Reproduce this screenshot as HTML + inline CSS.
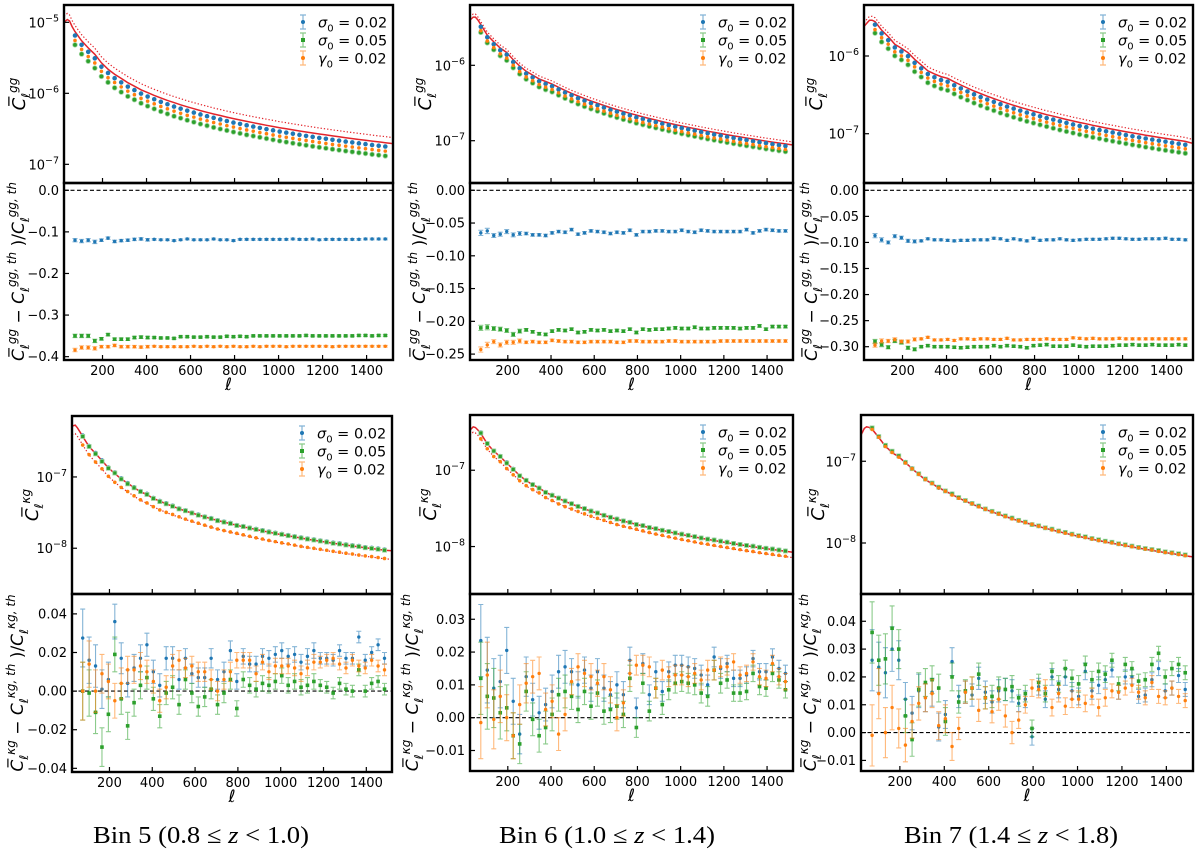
<!DOCTYPE html>
<html><head><meta charset="utf-8"><title>Angular power spectra residuals, bins 5–7</title>
<style>
body{margin:0;background:#fff;}
svg{display:block;font-family:"DejaVu Sans","Liberation Sans",sans-serif;}
</style></head>
<body>
<svg id="fig" width="1200" height="853" viewBox="0 0 1200 853" xmlns="http://www.w3.org/2000/svg">
<rect width="1200" height="853" fill="#fff"/>
<g id="root"></g>
<text x="201" y="843" text-anchor="middle" font-family="Liberation Serif, serif" font-size="24" textLength="216" lengthAdjust="spacingAndGlyphs">Bin 5 (0.8 ≤ <tspan font-style="italic">z</tspan> &lt; 1.0)</text>
<text x="607" y="843" text-anchor="middle" font-family="Liberation Serif, serif" font-size="24" textLength="216" lengthAdjust="spacingAndGlyphs">Bin 6 (1.0 ≤ <tspan font-style="italic">z</tspan> &lt; 1.4)</text>
<text x="1011" y="843" text-anchor="middle" font-family="Liberation Serif, serif" font-size="24" textLength="214" lengthAdjust="spacingAndGlyphs">Bin 7 (1.4 ≤ <tspan font-style="italic">z</tspan> &lt; 1.8)</text>
</svg>
<script>
// ---------- data ----------
const ell = [75,105,135,165,195,225,255,285,315,345,375,405,435,465,495,525,555,585,615,645,675,705,735,765,795,825,855,885,915,945,975,1005,1035,1065,1095,1125,1155,1185,1215,1245,1275,1305,1335,1365,1395,1425,1455,1485];
const ellLowKnots = [25,40,50,62];
const ellHighKnots = [1520];
const xTicks = [200,400,600,800,1000,1200,1400];

// theory log10(C_ell) on grid [ellLowKnots, ell, ellHighKnots]
const thA = [-5.0,-4.96,-4.98,-5.06,-5.13,-5.26,-5.36,-5.45,-5.57,-5.66,-5.73,-5.79,-5.85,-5.90,-5.95,-5.99,-6.029,-6.065,-6.099,-6.131,-6.161,-6.19,-6.216,-6.243,-6.267,-6.291,-6.313,-6.335,-6.356,-6.376,-6.396,-6.414,-6.432,-6.45,-6.467,-6.484,-6.499,-6.515,-6.53,-6.545,-6.559,-6.573,-6.586,-6.6,-6.612,-6.625,-6.637,-6.65,-6.661,-6.673,-6.684,-6.695,-6.708];
const thB = [-5.40,-5.36,-5.36,-5.40,-5.46,-5.60,-5.69,-5.77,-5.83,-5.925,-6.01,-6.08,-6.13,-6.18,-6.215,-6.248,-6.292,-6.333,-6.371,-6.407,-6.441,-6.474,-6.503,-6.533,-6.561,-6.588,-6.613,-6.637,-6.661,-6.684,-6.706,-6.726,-6.747,-6.767,-6.787,-6.805,-6.822,-6.84,-6.857,-6.874,-6.89,-6.905,-6.921,-6.936,-6.95,-6.964,-6.978,-6.992,-7.005,-7.018,-7.031,-7.043,-7.057];
const thC = [-5.62,-5.57,-5.54,-5.54,-5.557,-5.667,-5.75,-5.85,-5.90,-5.957,-6.043,-6.115,-6.19,-6.23,-6.265,-6.287,-6.332,-6.373,-6.412,-6.45,-6.484,-6.517,-6.548,-6.578,-6.607,-6.634,-6.66,-6.684,-6.709,-6.732,-6.755,-6.775,-6.797,-6.817,-6.837,-6.856,-6.873,-6.892,-6.909,-6.926,-6.942,-6.958,-6.974,-6.99,-7.004,-7.019,-7.033,-7.047,-7.06,-7.073,-7.086,-7.099,-7.124];
const thD = [-6.286,-6.272,-6.31,-6.366,-6.432,-6.573,-6.671,-6.77,-6.873,-6.953,-7.028,-7.089,-7.15,-7.207,-7.249,-7.30,-7.34,-7.377,-7.412,-7.446,-7.477,-7.506,-7.533,-7.561,-7.586,-7.611,-7.634,-7.656,-7.678,-7.699,-7.719,-7.737,-7.757,-7.775,-7.793,-7.81,-7.825,-7.842,-7.857,-7.873,-7.887,-7.901,-7.915,-7.93,-7.942,-7.955,-7.968,-7.981,-7.993,-8.004,-8.016,-8.028,-8.035];
const thE = [-6.474,-6.43,-6.44,-6.474,-6.518,-6.654,-6.75,-6.82,-6.908,-6.987,-7.07,-7.136,-7.189,-7.232,-7.289,-7.329,-7.369,-7.407,-7.442,-7.476,-7.507,-7.537,-7.564,-7.592,-7.618,-7.642,-7.666,-7.688,-7.71,-7.731,-7.752,-7.77,-7.789,-7.807,-7.826,-7.843,-7.858,-7.875,-7.891,-7.906,-7.921,-7.935,-7.949,-7.963,-7.976,-7.989,-8.002,-8.015,-8.027,-8.039,-8.051,-8.062,-8.075];
const thF = [-6.68,-6.598,-6.578,-6.586,-6.607,-6.709,-6.816,-6.893,-6.947,-7.016,-7.09,-7.16,-7.225,-7.275,-7.324,-7.365,-7.408,-7.449,-7.487,-7.523,-7.557,-7.589,-7.618,-7.648,-7.676,-7.702,-7.728,-7.751,-7.775,-7.798,-7.82,-7.84,-7.861,-7.88,-7.9,-7.918,-7.935,-7.953,-7.97,-7.987,-8.002,-8.017,-8.033,-8.048,-8.062,-8.076,-8.09,-8.104,-8.117,-8.129,-8.142,-8.155,-8.17];
// log10 offset of the alternative (dotted) theory used for the gamma_0 series
const dotOffset = [0.085,0.04,0.05,-0.12,-0.07,-0.003];

// residuals
const resA_sig02 = [-0.120,-0.122,-0.120,-0.124,-0.120,-0.115,-0.123,-0.121,-0.120,-0.118,-0.117,-0.119,-0.118,-0.119,-0.119,-0.121,-0.119,-0.117,-0.119,-0.119,-0.119,-0.117,-0.119,-0.119,-0.121,-0.118,-0.118,-0.118,-0.118,-0.118,-0.118,-0.118,-0.118,-0.117,-0.118,-0.118,-0.117,-0.119,-0.118,-0.118,-0.118,-0.118,-0.118,-0.118,-0.117,-0.117,-0.117,-0.117];
const resA_sig05 = [-0.350,-0.350,-0.350,-0.362,-0.357,-0.347,-0.358,-0.358,-0.358,-0.354,-0.353,-0.354,-0.354,-0.355,-0.355,-0.356,-0.352,-0.352,-0.353,-0.353,-0.352,-0.353,-0.353,-0.351,-0.352,-0.351,-0.352,-0.350,-0.350,-0.350,-0.350,-0.350,-0.350,-0.350,-0.350,-0.349,-0.350,-0.350,-0.350,-0.350,-0.350,-0.350,-0.350,-0.349,-0.349,-0.350,-0.349,-0.349];
const resA_gam02 = [-0.384,-0.378,-0.378,-0.380,-0.376,-0.376,-0.373,-0.376,-0.376,-0.376,-0.377,-0.376,-0.375,-0.376,-0.376,-0.376,-0.376,-0.376,-0.375,-0.376,-0.375,-0.376,-0.375,-0.376,-0.375,-0.376,-0.376,-0.375,-0.376,-0.375,-0.375,-0.375,-0.376,-0.375,-0.375,-0.375,-0.375,-0.375,-0.375,-0.376,-0.375,-0.375,-0.375,-0.375,-0.375,-0.375,-0.375,-0.375];
const resB_sig02 = [-0.065,-0.062,-0.069,-0.067,-0.063,-0.068,-0.066,-0.066,-0.068,-0.068,-0.069,-0.065,-0.063,-0.064,-0.060,-0.067,-0.065,-0.062,-0.063,-0.064,-0.066,-0.064,-0.065,-0.061,-0.068,-0.063,-0.063,-0.062,-0.062,-0.063,-0.063,-0.061,-0.063,-0.064,-0.061,-0.062,-0.063,-0.063,-0.063,-0.063,-0.063,-0.060,-0.065,-0.062,-0.060,-0.061,-0.062,-0.062];
const resB_sig05 = [-0.210,-0.209,-0.211,-0.212,-0.214,-0.220,-0.215,-0.213,-0.216,-0.219,-0.220,-0.215,-0.213,-0.214,-0.212,-0.217,-0.216,-0.213,-0.214,-0.213,-0.215,-0.214,-0.215,-0.212,-0.217,-0.212,-0.213,-0.212,-0.212,-0.211,-0.210,-0.211,-0.211,-0.209,-0.211,-0.211,-0.210,-0.210,-0.210,-0.210,-0.211,-0.210,-0.210,-0.207,-0.212,-0.208,-0.208,-0.208];
const resB_gam02 = [-0.243,-0.236,-0.231,-0.236,-0.232,-0.232,-0.230,-0.232,-0.231,-0.232,-0.232,-0.229,-0.230,-0.231,-0.231,-0.232,-0.232,-0.231,-0.231,-0.231,-0.231,-0.232,-0.232,-0.230,-0.230,-0.231,-0.231,-0.231,-0.231,-0.230,-0.230,-0.231,-0.231,-0.231,-0.231,-0.231,-0.231,-0.230,-0.230,-0.230,-0.230,-0.230,-0.230,-0.230,-0.230,-0.230,-0.230,-0.230];
const resC_sig02 = [-0.087,-0.095,-0.100,-0.088,-0.091,-0.097,-0.098,-0.097,-0.093,-0.095,-0.095,-0.096,-0.097,-0.096,-0.096,-0.095,-0.095,-0.095,-0.092,-0.093,-0.096,-0.093,-0.095,-0.097,-0.092,-0.096,-0.095,-0.095,-0.093,-0.095,-0.096,-0.095,-0.094,-0.094,-0.094,-0.093,-0.092,-0.092,-0.093,-0.094,-0.094,-0.093,-0.093,-0.093,-0.092,-0.094,-0.094,-0.095];
const resC_sig05 = [-0.290,-0.296,-0.301,-0.289,-0.292,-0.302,-0.305,-0.300,-0.298,-0.300,-0.300,-0.300,-0.301,-0.302,-0.301,-0.300,-0.300,-0.300,-0.298,-0.300,-0.298,-0.299,-0.300,-0.302,-0.298,-0.297,-0.296,-0.299,-0.299,-0.299,-0.297,-0.299,-0.300,-0.299,-0.299,-0.299,-0.298,-0.297,-0.297,-0.296,-0.297,-0.297,-0.296,-0.297,-0.297,-0.297,-0.296,-0.297];
const resC_gam02 = [-0.297,-0.289,-0.289,-0.286,-0.290,-0.290,-0.286,-0.285,-0.282,-0.287,-0.287,-0.286,-0.288,-0.285,-0.285,-0.286,-0.285,-0.285,-0.286,-0.286,-0.284,-0.287,-0.287,-0.286,-0.286,-0.286,-0.285,-0.286,-0.286,-0.286,-0.283,-0.284,-0.285,-0.284,-0.285,-0.285,-0.285,-0.284,-0.285,-0.285,-0.285,-0.285,-0.285,-0.285,-0.285,-0.285,-0.285,-0.285];
const resD_sig02 = [0.0275,0.016,0.013,0.001,0.006,0.036,0.017,0.004,0.012,0.017,0.024,0.010,0.003,0.017,0.017,0.006,0.017,0.009,0.007,0.007,0.017,0.006,0.010,0.021,0.005,0.018,0.014,0.014,0.018,0.017,0.019,0.021,0.018,0.019,0.015,0.018,0.021,0.017,0.017,0.016,0.021,0.017,0.017,0.028,0.016,0.020,0.024,0.017];
const resD_sig05 = [0.000,-0.001,-0.011,-0.029,-0.012,0.019,-0.004,-0.018,-0.006,0.003,0.007,-0.004,-0.013,-0.001,0.002,-0.007,0.006,-0.001,-0.008,-0.003,0.001,-0.007,-0.001,0.006,-0.009,0.006,0.003,0.001,0.004,0.003,0.005,0.008,0.003,0.005,0.002,0.003,0.005,0.003,0.002,-0.001,0.004,0.001,0.000,0.011,0.000,0.004,0.005,0.001];
const resD_gam02 = [0.000,0.014,0.000,0.009,0.005,-0.005,0.004,0.011,0.011,0.013,0.010,0.005,-0.005,0.002,0.013,0.016,0.012,0.013,0.010,0.010,0.006,0.000,0.006,0.010,0.016,0.016,0.016,0.009,0.015,0.010,0.013,0.013,0.013,0.012,0.009,0.012,0.015,0.015,0.016,0.017,0.014,0.012,0.016,0.013,0.012,0.016,0.013,0.011];
const resE_sig02 = [0.0235,0.0145,0.009,0.011,0.0205,0.005,-0.005,0.0125,0.0055,0.0015,0.004,0.008,0.014,0.0155,0.014,0.010,0.0145,0.009,0.014,0.009,0.007,0.010,0.007,0.0175,0.003,0.0165,0.007,0.014,0.008,0.014,0.016,0.016,0.0155,0.015,0.013,0.010,0.0185,0.015,0.0165,0.012,0.012,0.013,0.018,0.014,0.014,0.0185,0.015,0.0135];
const resE_sig05 = [0.012,0.0065,0.006,0.0015,0.003,-0.0055,-0.008,0.008,-0.0005,-0.0055,-0.003,0.001,0.007,0.008,0.0065,0.0025,0.008,0.0035,0.0075,0.002,0.0025,0.0035,0.001,0.012,-0.003,0.0105,0.002,0.009,0.004,0.0085,0.0105,0.011,0.0105,0.010,0.0075,0.0065,0.0145,0.0105,0.0115,0.0075,0.0075,0.008,0.0135,0.0095,0.009,0.0135,0.0115,0.0085];
const resE_gam02 = [-0.0015,0.013,-0.0005,0.0065,0.0,-0.0055,0.004,0.0105,0.0125,0.0135,0.0025,0.005,-0.005,0.001,0.011,0.0155,0.0135,0.0125,0.0105,0.0125,0.0085,0.0,0.0045,0.0135,0.016,0.016,0.0155,0.009,0.0145,0.0125,0.013,0.013,0.0125,0.0135,0.0115,0.0145,0.0145,0.0155,0.0155,0.017,0.013,0.0135,0.017,0.0125,0.012,0.0165,0.0125,0.011];
const resF_sig02 = [0.026,0.0235,0.0215,0.030,0.026,0.012,0.007,0.015,0.0125,0.0145,0.002,0.0065,0.0255,0.013,0.0145,0.0135,0.0195,0.0145,0.011,0.015,0.0155,0.015,0.0105,0.012,-0.0015,0.0165,0.012,0.020,0.0155,0.020,0.015,0.013,0.022,0.015,0.017,0.019,0.0225,0.0145,0.020,0.020,0.013,0.0135,0.019,0.023,0.015,0.016,0.0205,0.0155];
const resF_sig05 = [0.036,0.026,0.0265,0.0375,0.030,0.006,-0.0025,0.0155,0.018,0.019,0.016,0.004,0.020,0.011,0.015,0.016,0.021,0.0125,0.013,0.016,0.0155,0.0165,0.0125,0.014,0.0015,0.018,0.014,0.022,0.0175,0.023,0.0195,0.0175,0.0245,0.019,0.022,0.021,0.026,0.0175,0.0245,0.023,0.0185,0.019,0.0245,0.0285,0.020,0.023,0.0245,0.0215];
const resF_gam02 = [-0.001,0.014,0.0,0.009,0.0015,-0.0045,0.004,0.0105,0.0125,0.014,0.0025,0.005,-0.005,0.0015,0.0145,0.016,0.008,0.0125,0.0075,0.012,0.006,0.0,0.0045,0.010,0.016,0.0155,0.016,0.009,0.014,0.0095,0.012,0.012,0.0105,0.013,0.009,0.0125,0.015,0.0145,0.016,0.017,0.0145,0.0125,0.018,0.013,0.0125,0.016,0.013,0.0115];

// error bar half-widths
const errA = [0.004,0.004,0.004,0.004,0.003,0.003,0.003,0.003,0.003,0.003,0.003,0.003,0.002,0.002,0.002,0.002,0.002,0.002,0.002,0.002,0.002,0.002,0.002,0.002,0.002,0.002,0.002,0.002,0.002,0.002,0.002,0.002,0.002,0.002,0.002,0.002,0.002,0.002,0.002,0.002,0.002,0.002,0.002,0.002,0.002,0.002,0.002,0.002];
const errB = [0.004,0.004,0.003,0.003,0.003,0.003,0.003,0.002,0.002,0.002,0.002,0.002,0.002,0.002,0.002,0.002,0.002,0.002,0.002,0.002,0.002,0.002,0.002,0.002,0.002,0.002,0.002,0.002,0.002,0.002,0.002,0.002,0.002,0.002,0.002,0.002,0.002,0.002,0.002,0.002,0.002,0.002,0.002,0.002,0.002,0.002,0.002,0.002];
const errC = errB;
const errD = [0.015,0.012,0.011,0.010,0.009,0.009,0.008,0.007,0.007,0.007,0.006,0.006,0.006,0.006,0.006,0.005,0.005,0.005,0.005,0.005,0.005,0.005,0.005,0.005,0.004,0.004,0.004,0.004,0.004,0.004,0.004,0.004,0.004,0.004,0.004,0.004,0.004,0.003,0.003,0.003,0.003,0.003,0.003,0.003,0.003,0.003,0.003,0.003];
const errE = [0.011,0.010,0.009,0.008,0.007,0.007,0.006,0.006,0.005,0.005,0.005,0.005,0.005,0.005,0.004,0.004,0.004,0.004,0.004,0.004,0.004,0.004,0.004,0.004,0.003,0.003,0.003,0.003,0.003,0.003,0.003,0.003,0.003,0.003,0.003,0.003,0.003,0.003,0.0025,0.0025,0.0025,0.0025,0.0025,0.0025,0.0025,0.0025,0.0025,0.0025];
const errF = [0.011,0.009,0.009,0.008,0.007,0.006,0.006,0.006,0.005,0.005,0.005,0.005,0.005,0.004,0.004,0.004,0.004,0.004,0.004,0.004,0.004,0.004,0.003,0.003,0.003,0.003,0.003,0.003,0.003,0.003,0.003,0.003,0.003,0.003,0.003,0.003,0.0025,0.0025,0.0025,0.0025,0.0025,0.0025,0.0025,0.0025,0.0025,0.0025,0.0025,0.0025];

const seriesNames = ['sigma0-0.02','sigma0-0.05','gamma0-0.02'];
const seriesLabels = [['σ','0','0.02'],['σ','0','0.05'],['γ','0','0.02']];
const resTicksA = [0,-0.1,-0.2,-0.3,-0.4];
const resTicksB = [0,-0.05,-0.10,-0.15,-0.20,-0.25];
const resTicksC = [0,-0.05,-0.10,-0.15,-0.20,-0.25,-0.30];
const resTicksD = [0.04,0.02,0,-0.02,-0.04];
const resTicksE = [0.03,0.02,0.01,0,-0.01];
const resTicksF = [0.04,0.03,0.02,0.01,0,-0.01];

// ---------- layout ----------
const COLORS = ['#1f77b4','#2ca02c','#ff7f0e'];
const RED = '#e3242b';
const panels = [
 {k:'bin5-gg',kind:'gg',th:thA,dot:dotOffset[0],res:[resA_sig02,resA_sig05,resA_gam02],err:errA,x0:64,x1:393,t0:5,t1:183,r1:360,lt:-4.756,lb:-7.263,lTicks:[-5,-6,-7],rt:0.0175,rb:-0.408,rTicks:resTicksA,dec:1,topLab:19,resLab:18},
 {k:'bin6-gg',kind:'gg',th:thB,dot:dotOffset[1],res:[resB_sig02,resB_sig05,resB_gam02],err:errB,x0:470,x1:793,t0:5,t1:183,r1:360,lt:-5.2,lb:-7.561,lTicks:[-6,-7],rt:0.0111,rb:-0.259,rTicks:resTicksB,dec:2,topLab:425,resLab:419},
 {k:'bin7-gg',kind:'gg',th:thC,dot:dotOffset[2],res:[resC_sig02,resC_sig05,resC_gam02],err:errC,x0:864,x1:1193,t0:5,t1:183,r1:360,lt:-5.344,lb:-7.634,lTicks:[-6,-7],rt:0.014,rb:-0.3255,rTicks:resTicksC,dec:2,topLab:816,resLab:811},
 {k:'bin5-kg',kind:'kg',th:thD,dot:dotOffset[3],res:[resD_sig02,resD_sig05,resD_gam02],err:errD,x0:72,x1:392,t0:416,t1:594,r1:772,lt:-6.145,lb:-8.642,lTicks:[-7,-8],rt:0.0503,rb:-0.0419,rTicks:resTicksD,dec:2,topLab:32,resLab:17},
 {k:'bin6-kg',kind:'kg',th:thE,dot:dotOffset[4],res:[resE_sig02,resE_sig05,resE_gam02],err:errE,x0:470,x1:793,t0:415,t1:594,r1:771,lt:-6.276,lb:-8.622,lTicks:[-7,-8],rt:0.0377,rb:-0.01625,rTicks:resTicksE,dec:2,topLab:430,resLab:412},
 {k:'bin7-kg',kind:'kg',th:thF,dot:dotOffset[5],res:[resF_sig02,resF_sig05,resF_gam02],err:errF,x0:861,x1:1193,t0:415,t1:594,r1:771,lt:-6.434,lb:-8.624,lTicks:[-7,-8],rt:0.0498,rb:-0.0138,rTicks:resTicksF,dec:2,topLab:818,resLab:810}
];
const XMIN=25, XMAX=1520;
const NS='http://www.w3.org/2000/svg';
const root=document.getElementById('root');
function mk(tag,attrs,parent){const e=document.createElementNS(NS,tag);for(const a in attrs)e.setAttribute(a,attrs[a]);(parent||root).appendChild(e);return e;}
function fmt(v,d){const s=Math.abs(v).toFixed(d);return (v<-1e-9?'−':'')+s;}
const gridL = ellLowKnots.concat(ell, ellHighKnots);
const OFF = ellLowKnots.length;

panels.forEach((p,pi)=>{
  const g=mk('g',{});
  
  
  const xs=l=>p.x0+(l-XMIN)/(XMAX-XMIN)*(p.x1-p.x0);
  const ysT=lg=>p.t0+(p.lt-lg)/(p.lt-p.lb)*(p.t1-p.t0);
  const ysR=v=>p.t1+(p.rt-v)/(p.rt-p.rb)*(p.r1-p.t1);
  const cid='clipT'+pi, rid='clipR'+pi;
  const defs=mk('defs',{},g);
  const c1=mk('clipPath',{id:cid},defs); mk('rect',{x:p.x0,y:p.t0,width:p.x1-p.x0,height:p.t1-p.t0},c1);
  const c2=mk('clipPath',{id:rid},defs); mk('rect',{x:p.x0,y:p.t1,width:p.x1-p.x0,height:p.r1-p.t1},c2);

  // ---- top panel ----
  const top=mk('g',{'clip-path':'url(#'+cid+')'},g);
  let pts=gridL.map((l,i)=>xs(l).toFixed(1)+','+ysT(p.th[i]).toFixed(1)).join(' ');
  const sl=mk('polyline',{points:pts,fill:'none',stroke:RED,'stroke-width':1.5},top);
  
  
  pts=gridL.map((l,i)=>xs(l).toFixed(1)+','+ysT(p.th[i]+p.dot).toFixed(1)).join(' ');
  const dl=mk('polyline',{points:pts,fill:'none',stroke:RED,'stroke-width':1.2,'stroke-dasharray':'1.3 2'},top);
  
  
  [0,1,2].forEach(s=>{
    ell.forEach((l,i)=>{
      const base=p.th[i+OFF]+(s===2?p.dot:0);
      const lg=base+Math.log10(1+p.res[s][i]);
      const x=xs(l), y=ysT(lg);
      let m;
      if(s===1&&p.kind==='kg') m=mk('rect',{x:x-2,y:y-2,width:4,height:4,fill:COLORS[s],stroke:'#9fd39f','stroke-width':0.8},top);
      else m=mk('circle',{cx:x,cy:y,r:s===2?1.8:2.3,fill:COLORS[s],stroke:s===1?'#9fd39f':'none','stroke-width':0.8},top);
      
      
    });
  });
  // ---- residual panel ----
  const rg=mk('g',{'clip-path':'url(#'+rid+')'},g);
  const zl=mk('line',{x1:p.x0,x2:p.x1,y1:ysR(0),y2:ysR(0),stroke:'#000','stroke-width':1.1,'stroke-dasharray':'4 2.5'},rg);
  
  
  [0,1,2].forEach(s=>{
    ell.forEach((l,i)=>{
      const x=xs(l), v=p.res[s][i], e=p.err[i];
      const ya=ysR(v+e), yb=ysR(v-e);
      const eb=mk('path',{d:`M${x},${ya}V${yb}M${x-2.5},${ya}H${x+2.5}M${x-2.5},${yb}H${x+2.5}`,stroke:COLORS[s],'stroke-opacity':0.55,'stroke-width':1.1,fill:'none'},rg);
      
      
      const y=ysR(v);
      let m;
      if(s===1) m=mk('rect',{x:x-1.8,y:y-1.8,width:3.6,height:3.6,fill:COLORS[s]},rg);
      else m=mk('circle',{cx:x,cy:y,r:1.7,fill:COLORS[s]},rg);
      
      
    });
  });
  // ---- frames & ticks ----
  mk('rect',{x:p.x0,y:p.t0,width:p.x1-p.x0,height:p.t1-p.t0,fill:'none',stroke:'#000','stroke-width':2.4},g);
  mk('rect',{x:p.x0,y:p.t1,width:p.x1-p.x0,height:p.r1-p.t1,fill:'none',stroke:'#000','stroke-width':2.4},g);
  xTicks.forEach(t=>{
    const x=xs(t);
    mk('line',{x1:x,x2:x,y1:p.t1,y2:p.t1-5,stroke:'#000','stroke-width':1.2},g);
    mk('line',{x1:x,x2:x,y1:p.r1,y2:p.r1-5,stroke:'#000','stroke-width':1.2},g);
    const tl=mk('text',{x:x,y:p.r1+15,'text-anchor':'middle','font-size':13},g);
    tl.textContent=String(t);
    
    
  });
  p.lTicks.forEach(t=>{
    const y=ysT(t);
    mk('line',{x1:p.x0,x2:p.x0+5,y1:y,y2:y,stroke:'#000','stroke-width':1.2},g);
    const tl=mk('text',{x:p.x0-5,y:y+5,'text-anchor':'end','font-size':13},g);
    tl.innerHTML='10<tspan dy="-6" font-size="9.5">−'+(-t)+'</tspan>';
    
    
  });
  p.rTicks.forEach(t=>{
    const y=ysR(t);
    mk('line',{x1:p.x0,x2:p.x0+5,y1:y,y2:y,stroke:'#000','stroke-width':1.2},g);
    const tl=mk('text',{x:p.x0-5,y:y+4.5,'text-anchor':'end','font-size':13},g);
    tl.textContent=fmt(t,p.dec);
    
    
  });
  const xl=mk('text',{x:(p.x0+p.x1)/2,y:p.r1+30,'text-anchor':'middle','font-size':17,'font-style':'italic'},g);
  xl.textContent='ℓ';
  
  
  // y labels
  const sup=p.kind==='gg'?'gg':'κg';
  const ty=(p.t0+p.t1)/2, ry=(p.t1+p.r1)/2;
  const yl=mk('text',{x:p.topLab,y:ty,'text-anchor':'middle','font-size':18,transform:`rotate(-90 ${p.topLab} ${ty})`,dy:6},g);
  yl.innerHTML=`<tspan font-style="italic">C̅</tspan><tspan font-size="12" font-style="italic" dy="5">ℓ</tspan><tspan font-size="12" font-style="italic" dy="-13">${sup}</tspan>`;
  
  
  const rl=mk('text',{x:p.resLab,y:ry,'text-anchor':'middle','font-size':17,transform:`rotate(-90 ${p.resLab} ${ry})`,dy:6},g);
  const S=(a)=>`<tspan font-size="12" font-style="italic" dy="5">ℓ</tspan><tspan font-size="12" font-style="italic" dy="-13">${a}</tspan><tspan dy="8"> </tspan>`;
  rl.innerHTML=`<tspan font-style="italic">C̅</tspan>${S(sup)}− <tspan font-style="italic">C</tspan>${S(sup+', th')})/<tspan font-style="italic">C</tspan>${S(sup+', th')}`;
  
  
  // legend
  const lg=mk('g',{},g);
  
  
  const lx=p.x1-90;
  [0,1,2].forEach(s=>{
    const cy=p.t0+17+s*18;
    const ent=mk('g',{},lg);
    
    
    mk('path',{d:`M${lx},${cy-7}V${cy+7}M${lx-3},${cy-7}H${lx+3}M${lx-3},${cy+7}H${lx+3}`,stroke:COLORS[s],'stroke-opacity':0.55,'stroke-width':1.2,fill:'none'},ent);
    if(s===1) mk('rect',{x:lx-2,y:cy-2,width:4,height:4,fill:COLORS[s]},ent);
    else mk('circle',{cx:lx,cy:cy,r:2,fill:COLORS[s]},ent);
    const t=mk('text',{x:lx+15,y:cy+5.5,'font-size':14.5},ent);
    const L=seriesLabels[s];
    t.innerHTML=`<tspan font-style="italic">${L[0]}</tspan><tspan font-size="10" dy="4">${L[1]}</tspan><tspan dy="-4"> = ${L[2]}</tspan>`;
  });
});
</script>
</body></html>
